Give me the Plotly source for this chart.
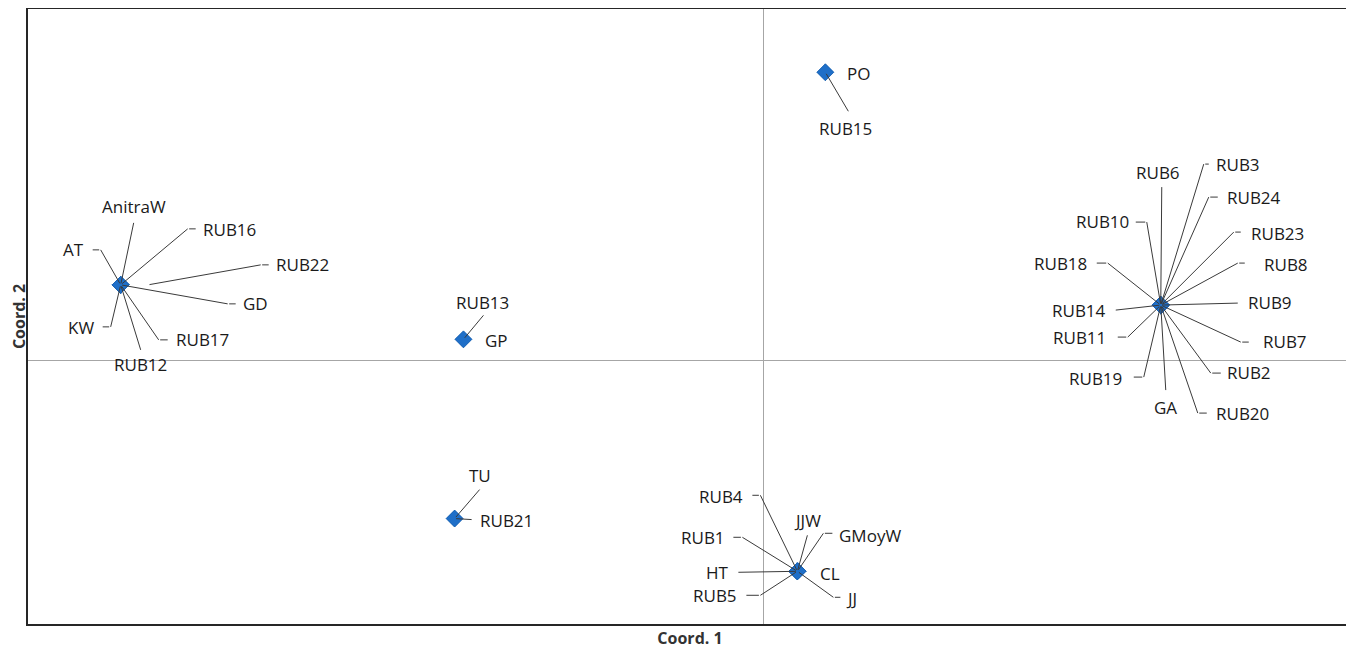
import plotly.graph_objects as go

# ---- data: PCoA coordinates of each accession ----
names = ["AnitraW", "RUB16", "RUB22", "GD", "RUB17", "RUB12", "KW", "AT",
         "RUB13", "GP",
         "TU", "RUB21",
         "PO", "RUB15",
         "RUB6", "RUB3", "RUB24", "RUB23", "RUB8", "RUB9", "RUB7", "RUB2",
         "RUB20", "GA", "RUB19", "RUB11", "RUB14", "RUB18", "RUB10",
         "RUB4", "JJW", "GMoyW", "CL", "JJ", "RUB5", "HT", "RUB1"]
coord1 = [-0.437] * 8 + [-0.204] * 2 + [-0.210] * 2 + [0.042] * 2 + [0.270] * 15 + [0.023] * 8
coord2 = [0.086] * 8 + [0.024] * 2 + [-0.180] * 2 + [0.328] * 2 + [0.063] * 15 + [-0.240] * 8

# ---- label layout (pixel offsets from the point; y downward) ----
# leader: polyline of pixel offsets starting at the point; text: (dx, dy, anchor)
label_layout = {
    "AnitraW": ([(13, -62)], (13, -78, "center")),
    "RUB16": ([(67, -56), (75, -56)], (80, -55, "left")),
    "RUB22": ([(140, -20), (148, -20)], (153, -20, "left")),
    "GD": ([(107, 19), (115, 19)], (120, 19, "left")),
    "RUB17": ([(38, 55), (47, 55)], (53, 55, "left")),
    "RUB12": ([(20, 65)], (20, 80, "center")),
    "KW": ([(-10, 42), (-18, 42)], (-25, 43, "right")),
    "AT": ([(-20, -35), (-28, -35)], (-35, -35, "right")),
    "RUB13": ([(20, -24)], (19, -37, "center")),
    "GP": ([], (20, 1, "left")),
    "TU": ([(25, -29)], (25, -43, "center")),
    "RUB21": ([(17, 1)], (23, 2, "left")),
    "PO": ([], (20, 1, "left")),
    "RUB15": ([(23, 39)], (20, 56, "center")),
    "RUB6": ([(1, -118)], (-3, -133, "center")),
    "RUB3": ([(43, -141), (48, -141)], (53, -141, "left")),
    "RUB24": ([(48, -108), (57, -108)], (64, -108, "left")),
    "RUB23": ([(73, -73), (80, -73)], (88, -72, "left")),
    "RUB8": ([(77, -42), (84, -42)], (101, -41, "left")),
    "RUB9": ([(77, -2)], (85, -3, "left")),
    "RUB7": ([(80, 37), (88, 37)], (100, 36, "left")),
    "RUB2": ([(50, 68), (60, 68)], (64, 67, "left")),
    "RUB20": ([(37, 108), (46, 108)], (53, 108, "left")),
    "GA": ([(5, 85)], (5, 102, "center")),
    "RUB19": ([(-17, 72), (-27, 72)], (-37, 73, "right")),
    "RUB11": ([(-33, 32), (-43, 32)], (-53, 32, "right")),
    "RUB14": ([(-45, 5)], (-53, 5, "right")),
    "RUB18": ([(-53, -42), (-64, -42)], (-72, -42, "right")),
    "RUB10": ([(-14, -83), (-25, -83)], (-30, -84, "right")),
    "RUB4": ([(-37, -76), (-45, -76)], (-52, -75, "right")),
    "JJW": ([(10, -36)], (10, -51, "center")),
    "GMoyW": ([(26, -38), (35, -38)], (40, -36, "left")),
    "CL": ([], (21, 2, "left")),
    "JJ": ([(36, 26), (43, 26)], (47, 27, "left")),
    "RUB5": ([(-37, 24), (-51, 24)], (-58, 24, "right")),
    "HT": ([(-59, 1)], (-66, 1, "right")),
    "RUB1": ([(-55, -34), (-64, -34)], (-70, -34, "right")),
}

LINE_COLOR = "#3a3a3a"
TEXT_COLOR = "#1a1a1a"
FONT = "Open Sans"

fig = go.Figure()
fig.add_trace(go.Scatter(
    x=coord1, y=coord2, mode="markers", text=names,
    marker=dict(symbol="diamond", size=13, color="#1F6FC8",
                line=dict(color="#1A5EAA", width=0.5)),
    hoverinfo="text", showlegend=False,
))

annotations = []
for name, cx, cy in zip(names, coord1, coord2):
    leader, (tx, ty, anchor) = label_layout[name]
    prev = (0, 0)
    for seg in leader:
        annotations.append(dict(
            x=cx, y=cy, xref="x", yref="y",
            xshift=seg[0], yshift=-seg[1],
            ax=prev[0] - seg[0], ay=prev[1] - seg[1],
            axref="pixel", ayref="pixel",
            text="", showarrow=True, arrowhead=0, arrowwidth=1,
            arrowcolor=LINE_COLOR, standoff=0, startstandoff=0,
        ))
        prev = seg
    annotations.append(dict(
        x=cx, y=cy, xref="x", yref="y",
        xshift=tx, yshift=-ty, text=name, showarrow=False,
        xanchor=anchor, yanchor="middle",
        font=dict(family=FONT, size=17, color=TEXT_COLOR),
    ))

axis_common = dict(
    showticklabels=False, ticks="", showgrid=False, automargin=False,
    zeroline=True, zerolinecolor="#A6A6A6", zerolinewidth=1,
    showline=True, mirror=True, linecolor="#262626", linewidth=2,
)
title_font = dict(family=FONT, size=16, color="#333333")

# page body has an 8px margin; figure size/margins compensate for it
fig.update_layout(
    width=1346, height=641, autosize=False,
    margin=dict(l=20, r=2, t=1, b=25),
    paper_bgcolor="white", plot_bgcolor="white",
    xaxis=dict(range=[-0.5, 0.4], title=dict(text="<b>Coord. 1</b>", standoff=12,
               font=title_font), **axis_common),
    yaxis=dict(range=[-0.3, 0.4], title=dict(text="<b>Coord. 2</b>", standoff=3,
               font=title_font), **axis_common),
    annotations=annotations,
    hovermode="closest",
)

fig.write_html("out.html")
